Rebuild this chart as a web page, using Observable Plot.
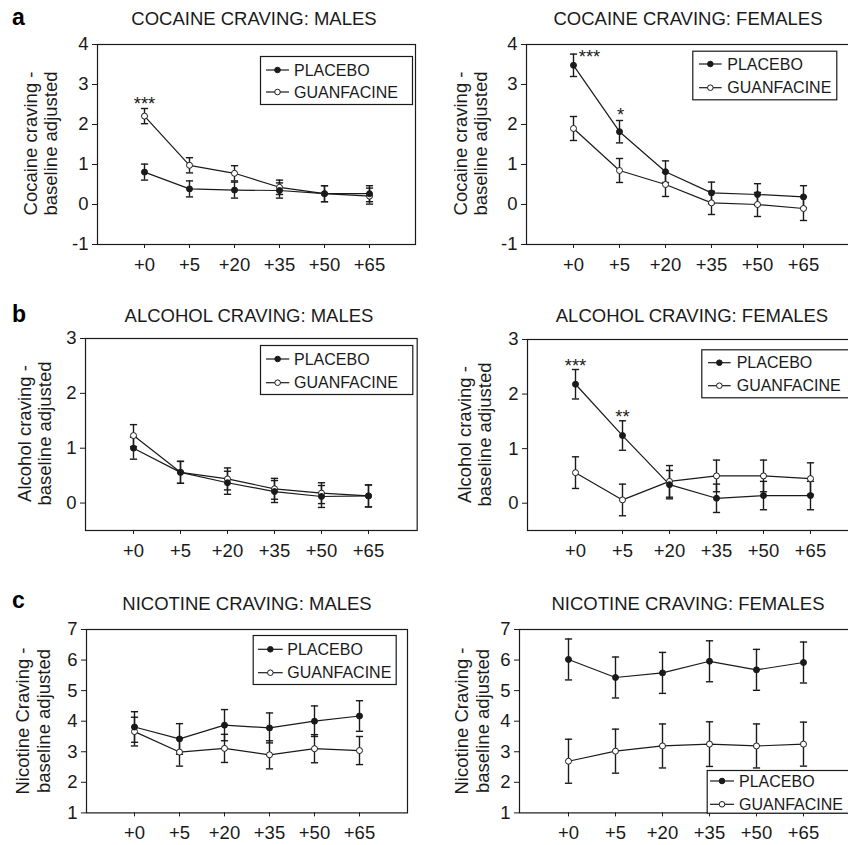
<!DOCTYPE html>
<html><head><meta charset="utf-8">
<script src="https://cdn.jsdelivr.net/npm/d3@7"></script>
<script src="https://cdn.jsdelivr.net/npm/@observablehq/plot@0.6"></script>
<style>
html,body{margin:0;padding:0;background:#fff;}
#page{position:relative;width:848px;height:845px;overflow:hidden;background:#fff;}
#page svg{position:absolute;}
</style></head><body><div id="page"></div>
<script>
// ---------- data ----------
const timepoints = ["+0", "+5", "+20", "+35", "+50", "+65"];
const groups = ["PLACEBO", "GUANFACINE"];

const cocaineMalesPlacebo      = [0.81, 0.39, 0.36, 0.35, 0.27, 0.27];
const cocaineMalesPlaceboSE    = [0.20, 0.20, 0.20, 0.19, 0.20, 0.20];
const cocaineMalesGuanfacine   = [2.21, 0.98, 0.78, 0.43, 0.27, 0.21];
const cocaineMalesGuanfacineSE = [0.19, 0.19, 0.19, 0.18, 0.20, 0.20];

const cocaineFemalesPlacebo      = [3.48, 1.82, 0.82, 0.29, 0.25, 0.19];
const cocaineFemalesPlaceboSE    = [0.28, 0.28, 0.27, 0.27, 0.27, 0.28];
const cocaineFemalesGuanfacine   = [1.90, 0.85, 0.50, 0.04, 0.00, -0.10];
const cocaineFemalesGuanfacineSE = [0.30, 0.30, 0.30, 0.29, 0.30, 0.30];

const alcoholMalesPlacebo      = [1.00, 0.56, 0.37, 0.21, 0.12, 0.13];
const alcoholMalesPlaceboSE    = [0.20, 0.20, 0.21, 0.20, 0.20, 0.20];
const alcoholMalesGuanfacine   = [1.23, 0.56, 0.44, 0.26, 0.18, 0.13];
const alcoholMalesGuanfacineSE = [0.20, 0.20, 0.20, 0.19, 0.19, 0.20];

const alcoholFemalesPlacebo      = [2.18, 1.24, 0.34, 0.09, 0.14, 0.14];
const alcoholFemalesPlaceboSE    = [0.27, 0.27, 0.26, 0.26, 0.26, 0.26];
const alcoholFemalesGuanfacine   = [0.56, 0.06, 0.40, 0.50, 0.50, 0.45];
const alcoholFemalesGuanfacineSE = [0.29, 0.29, 0.29, 0.29, 0.29, 0.29];

const nicotineMalesPlacebo      = [3.81, 3.42, 3.87, 3.78, 4.00, 4.17];
const nicotineMalesPlaceboSE    = [0.50, 0.50, 0.51, 0.49, 0.50, 0.50];
const nicotineMalesGuanfacine   = [3.66, 2.99, 3.11, 2.90, 3.10, 3.04];
const nicotineMalesGuanfacineSE = [0.47, 0.46, 0.46, 0.46, 0.46, 0.46];

const nicotineFemalesPlacebo      = [6.02, 5.43, 5.58, 5.96, 5.68, 5.92];
const nicotineFemalesPlaceboSE    = [0.67, 0.67, 0.67, 0.67, 0.67, 0.67];
const nicotineFemalesGuanfacine   = [2.69, 3.02, 3.19, 3.25, 3.19, 3.25];
const nicotineFemalesGuanfacineSE = [0.72, 0.72, 0.72, 0.73, 0.72, 0.72];

const cocaineTicks  = [-1, 0, 1, 2, 3, 4];
const alcoholTicks  = [0, 1, 2, 3];
const nicotineTicks = [1, 2, 3, 4, 5, 6, 7];

const titles = ["COCAINE CRAVING: MALES", "COCAINE CRAVING: FEMALES",
                "ALCOHOL CRAVING: MALES", "ALCOHOL CRAVING: FEMALES",
                "NICOTINE CRAVING: MALES", "NICOTINE CRAVING: FEMALES"];
const yLabelsCocaine  = ["Cocaine craving -", "baseline adjusted"];
const yLabelsAlcohol  = ["Alcohol craving -", "baseline adjusted"];
const yLabelsNicotine = ["Nicotine Craving -", "baseline adjusted"];

// significance markers (timepoint, y value, label)
const cocaineMalesNotes   = [{t: "+0", v: 2.52, label: "***"}];
const cocaineFemalesNotes = [{t: "+0", v: 3.68, label: "***"}, {t: "+5", v: 2.24, label: "*"}];
const alcoholFemalesNotes = [{t: "+0", v: 2.52, label: "***"}, {t: "+5", v: 1.58, label: "**"}];

// ---------- layout ----------
const ink = "#1a1a1a";
const font = '"Liberation Sans", Arial, sans-serif';
const panels = [
  {letter: "a", title: titles[0], ylab: yLabelsCocaine, yDomain: [-1, 4], yTicks: cocaineTicks,
   p: cocaineMalesPlacebo, pse: cocaineMalesPlaceboSE, g: cocaineMalesGuanfacine, gse: cocaineMalesGuanfacineSE,
   notes: cocaineMalesNotes, noteDx: [0],
   frame: {l: 97, r: 415, t: 43.5, b: 243.5}, titleX: 254, titleY: 18.3, letterY: 25, ylabX: [30.7, 50.7],
   legend: {x: 260, y: 56, w: 152, h: 48, rows: [70, 92], l1: 266, l2: 289, tx: 294}},
  {title: titles[1], ylab: yLabelsCocaine, yDomain: [-1, 4], yTicks: cocaineTicks,
   p: cocaineFemalesPlacebo, pse: cocaineFemalesPlaceboSE, g: cocaineFemalesGuanfacine, gse: cocaineFemalesGuanfacineSE,
   notes: cocaineFemalesNotes, noteDx: [16, 1],
   frame: {l: 525.7, r: 849.8, t: 43.5, b: 243.5}, titleX: 688, titleY: 18.3, ylabX: [460.7, 480.7],
   legend: {x: 692.3, y: 50.7, w: 144, h: 48.6, rows: [64, 87.7], l1: 699, l2: 721.7, tx: 727.3}},
  {letter: "b", title: titles[2], ylab: yLabelsAlcohol, yDomain: [-0.5, 3], yTicks: alcoholTicks,
   p: alcoholMalesPlacebo, pse: alcoholMalesPlaceboSE, g: alcoholMalesGuanfacine, gse: alcoholMalesGuanfacineSE,
   notes: [], noteDx: [],
   frame: {l: 85, r: 416.7, t: 337.5, b: 529.5}, titleX: 249, titleY: 315, letterY: 321.7, ylabX: [24, 44],
   legend: {x: 260, y: 345, w: 152.3, h: 49, rows: [359, 382.7], l1: 266, l2: 289.3, tx: 294}},
  {title: titles[3], ylab: yLabelsAlcohol, yDomain: [-0.5, 3], yTicks: alcoholTicks,
   p: alcoholFemalesPlacebo, pse: alcoholFemalesPlaceboSE, g: alcoholFemalesGuanfacine, gse: alcoholFemalesGuanfacineSE,
   notes: alcoholFemalesNotes, noteDx: [0, 0],
   frame: {l: 527.3, r: 858.4, t: 339, b: 530}, titleX: 692, titleY: 315, ylabX: [464.7, 484.7],
   legend: {x: 701.3, y: 349.3, w: 170, h: 48, rows: [362.7, 385.7], l1: 708, l2: 730.7, tx: 736.7}},
  {letter: "c", title: titles[4], ylab: yLabelsNicotine, yDomain: [1, 7], yTicks: nicotineTicks,
   p: nicotineMalesPlacebo, pse: nicotineMalesPlaceboSE, g: nicotineMalesGuanfacine, gse: nicotineMalesGuanfacineSE,
   notes: [], noteDx: [],
   frame: {l: 86, r: 407, t: 629.3, b: 812.7}, titleX: 247, titleY: 603.3, letterY: 608.3, ylabX: [22.3, 43],
   legend: {x: 252.7, y: 635, w: 143, h: 49, rows: [649.3, 672.7], l1: 258, l2: 282.7, tx: 287.3}},
  {title: titles[5], ylab: yLabelsNicotine, yDomain: [1, 7], yTicks: nicotineTicks,
   p: nicotineFemalesPlacebo, pse: nicotineFemalesPlaceboSE, g: nicotineFemalesGuanfacine, gse: nicotineFemalesGuanfacineSE,
   notes: [], noteDx: [],
   frame: {l: 519, r: 852.9, t: 629.3, b: 812.7}, titleX: 688, titleY: 603.3, ylabX: [461.3, 482.7],
   legend: {x: 706.7, y: 770, w: 170, h: 42.7, rows: [781, 804.3], l1: 710, l2: 734, tx: 739}}
];

// horizontal cap symbol for error bars
const capSymbol = {draw(ctx) { ctx.moveTo(-3.6, 0); ctx.lineTo(3.6, 0); }};

const page = document.getElementById("page");
const mL = 50, mR = 8, mT = 8, mB = 42;

for (const P of panels) {
  const rows = [];
  timepoints.forEach((t, i) => {
    rows.push({t, group: groups[0], v: P.p[i], lo: P.p[i] - P.pse[i], hi: P.p[i] + P.pse[i]});
    rows.push({t, group: groups[1], v: P.g[i], lo: P.g[i] - P.gse[i], hi: P.g[i] + P.gse[i]});
  });
  const fw = P.frame.r - P.frame.l, fh = P.frame.b - P.frame.t;
  const noteMarks = P.notes.map((n, i) => Plot.text([n], {x: "t", y: "v", text: "label", dx: P.noteDx[i], fill: ink, lineAnchor: "middle"}));
  const svg = Plot.plot({
    width: fw + mL + mR, height: fh + mT + mB,
    marginLeft: mL, marginRight: mR, marginTop: mT, marginBottom: mB,
    style: {fontFamily: font, fontSize: "18.5px", color: ink, background: "transparent", overflow: "visible"},
    x: {type: "point", domain: timepoints, padding: 1, label: null},
    y: {domain: P.yDomain, label: null},
    marks: [
      Plot.axisY({ticks: P.yTicks, tickSize: 5, tickPadding: 4, label: null, stroke: ink,
                  tickFormat: d => (d < 0 ? "-" : "") + Math.abs(d)}),
      Plot.axisX({tickSize: 4, tickPadding: 9, label: null, stroke: ink}),
      Plot.ruleX(rows, {x: "t", y1: "lo", y2: "hi", stroke: ink, strokeWidth: 1.4}),
      Plot.dot(rows, {x: "t", y: "lo", symbol: capSymbol, r: 3, fill: "none", stroke: ink, strokeWidth: 1.4}),
      Plot.dot(rows, {x: "t", y: "hi", symbol: capSymbol, r: 3, fill: "none", stroke: ink, strokeWidth: 1.4}),
      Plot.line(rows, {x: "t", y: "v", z: "group", stroke: ink, strokeWidth: 1.2}),
      Plot.dot(rows.filter(d => d.group === groups[1]), {x: "t", y: "v", r: 3, fill: "white", stroke: ink, strokeWidth: 1}),
      Plot.dot(rows.filter(d => d.group === groups[0]), {x: "t", y: "v", r: 3, fill: ink, stroke: ink, strokeWidth: 1}),
      Plot.frame({stroke: ink, strokeWidth: 1.2}),
      ...noteMarks
    ]
  });
  svg.style.left = (P.frame.l - mL) + "px";
  svg.style.top = (P.frame.t - mT) + "px";
  page.appendChild(svg);
}

// ---------- overlay: titles, letters, axis titles, legends ----------
const ov = d3.select(page).append("svg")
  .attr("width", 848).attr("height", 845)
  .style("left", "0px").style("top", "0px")
  .style("font-family", font).style("fill", ink);

for (const P of panels) {
  ov.append("text").attr("x", P.titleX).attr("y", P.titleY).attr("text-anchor", "middle")
    .attr("dominant-baseline", "central").attr("font-size", 18.5).attr("fill", ink).text(P.title);
  if (P.letter) {
    ov.append("text").attr("x", 12).attr("y", P.letterY).attr("font-size", 23).attr("font-weight", "bold")
      .attr("fill", "#000").text(P.letter);
  }
  const cy = (P.frame.t + P.frame.b) / 2;
  P.ylab.forEach((s, i) => {
    ov.append("text").attr("transform", `translate(${P.ylabX[i]},${cy}) rotate(-90)`)
      .attr("text-anchor", "middle").attr("dominant-baseline", "central")
      .attr("font-size", 18.5).attr("fill", ink).text(s);
  });
  const L = P.legend;
  ov.append("rect").attr("x", L.x + 0.5).attr("y", L.y + 0.5).attr("width", L.w).attr("height", L.h)
    .attr("fill", "white").attr("stroke", ink).attr("stroke-width", 1.2);
  groups.forEach((g, i) => {
    const y = L.rows[i];
    ov.append("line").attr("x1", L.l1).attr("x2", L.l2).attr("y1", y).attr("y2", y)
      .attr("stroke", ink).attr("stroke-width", 1.2);
    ov.append("circle").attr("cx", (L.l1 + L.l2) / 2).attr("cy", y).attr("r", 2.8)
      .attr("fill", i === 0 ? ink : "white").attr("stroke", ink).attr("stroke-width", 1);
    ov.append("text").attr("x", L.tx).attr("y", y).attr("dominant-baseline", "central")
      .attr("font-size", 16).attr("fill", ink).text(g);
  });
}
</script>
</body></html>
